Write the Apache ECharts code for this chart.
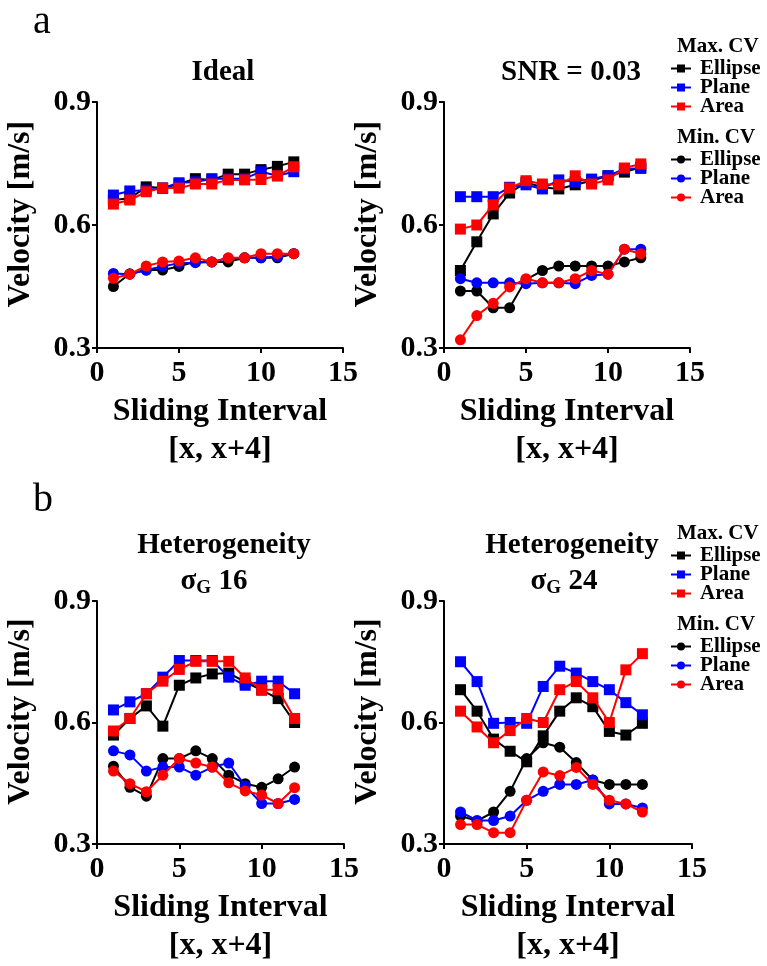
<!DOCTYPE html>
<html>
<head>
<meta charset="utf-8">
<script src="https://cdn.jsdelivr.net/npm/echarts@6/dist/echarts.min.js"></script>
<style>html,body{margin:0;padding:0;background:#fff}#c{width:767px;height:966px}</style>
</head>
<body>
<div id="c"></div>
<script>
const xVals = [1,2,3,4,5,6,7,8,9,10,11,12];
const xTicks = [0,5,10,15];
const yTicks = [0.3,0.6,0.9];

// Panel a-left: Ideal
const idealMaxEllipse = [0.661,0.665,0.693,0.690,0.700,0.713,0.710,0.724,0.724,0.735,0.743,0.754];
const idealMaxPlane   = [0.673,0.683,0.685,0.690,0.703,0.705,0.713,0.713,0.713,0.730,0.720,0.730];
const idealMaxArea    = [0.651,0.661,0.681,0.690,0.690,0.700,0.700,0.710,0.710,0.711,0.720,0.742];
const idealMinEllipse = [0.450,0.481,0.490,0.490,0.499,0.510,0.510,0.510,0.520,0.520,0.520,0.530];
const idealMinPlane   = [0.482,0.480,0.490,0.499,0.507,0.508,0.510,0.519,0.520,0.520,0.523,0.530];
const idealMinArea    = [0.470,0.480,0.500,0.510,0.512,0.520,0.510,0.520,0.520,0.530,0.530,0.530];

// Panel a-right: SNR = 0.03
const snrMaxEllipse = [0.489,0.559,0.627,0.678,0.704,0.692,0.688,0.698,0.708,0.720,0.729,0.741];
const snrMaxPlane   = [0.669,0.669,0.669,0.692,0.698,0.688,0.710,0.706,0.712,0.720,0.737,0.738];
const snrMaxArea    = [0.590,0.600,0.649,0.690,0.708,0.700,0.698,0.720,0.700,0.710,0.739,0.749];
const snrMinEllipse = [0.439,0.439,0.398,0.398,0.467,0.489,0.500,0.500,0.500,0.500,0.510,0.520];
const snrMinPlane   = [0.469,0.459,0.459,0.459,0.457,0.459,0.459,0.457,0.477,0.480,0.541,0.541];
const snrMinArea    = [0.320,0.379,0.409,0.449,0.469,0.459,0.459,0.469,0.489,0.480,0.541,0.530];

// Panel b-left: Heterogeneity sigma_G 16
const h16MaxEllipse = [0.569,0.610,0.641,0.591,0.692,0.710,0.720,0.722,0.700,0.680,0.659,0.600];
const h16MaxPlane   = [0.631,0.651,0.671,0.712,0.753,0.753,0.753,0.712,0.692,0.702,0.702,0.671];
const h16MaxArea    = [0.579,0.610,0.671,0.702,0.731,0.751,0.751,0.751,0.710,0.681,0.681,0.610];
const h16MinEllipse = [0.492,0.440,0.418,0.511,0.511,0.530,0.511,0.470,0.449,0.440,0.461,0.490];
const h16MinPlane   = [0.530,0.520,0.480,0.490,0.490,0.470,0.490,0.500,0.443,0.400,0.400,0.410];
const h16MinArea    = [0.480,0.449,0.429,0.470,0.511,0.500,0.490,0.451,0.431,0.421,0.400,0.439];

// Panel b-right: Heterogeneity sigma_G 24
const h24MaxEllipse = [0.681,0.628,0.559,0.529,0.503,0.567,0.628,0.661,0.639,0.578,0.569,0.598];
const h24MaxPlane   = [0.750,0.701,0.598,0.600,0.598,0.689,0.739,0.722,0.701,0.681,0.649,0.619];
const h24MaxArea    = [0.628,0.589,0.550,0.580,0.610,0.600,0.681,0.701,0.661,0.600,0.730,0.770];
const h24MinEllipse = [0.369,0.357,0.379,0.430,0.511,0.550,0.539,0.501,0.458,0.447,0.447,0.447];
const h24MinPlane   = [0.379,0.358,0.358,0.369,0.408,0.430,0.447,0.447,0.458,0.399,0.399,0.389];
const h24MinArea    = [0.348,0.348,0.328,0.328,0.408,0.478,0.469,0.489,0.447,0.408,0.399,0.379];

const panels = [
  [idealMaxEllipse, idealMaxPlane, idealMaxArea, idealMinEllipse, idealMinPlane, idealMinArea],
  [snrMaxEllipse, snrMaxPlane, snrMaxArea, snrMinEllipse, snrMinPlane, snrMinArea],
  [h16MaxEllipse, h16MaxPlane, h16MaxArea, h16MinEllipse, h16MinPlane, h16MinArea],
  [h24MaxEllipse, h24MaxPlane, h24MaxArea, h24MinEllipse, h24MinPlane, h24MinArea]
];
const seriesNames = ['Max Ellipse','Max Plane','Max Area','Min Ellipse','Min Plane','Min Area'];
const colors = ['#000000','#0000ff','#ff0000','#000000','#0000ff','#ff0000'];
const symbols = ['rect','rect','rect','circle','circle','circle'];

const FONT = '"Liberation Serif", "DejaVu Serif", serif';
const grids = [
  {left:97, top:102, width:246, height:246},
  {left:444, top:102, width:246, height:246},
  {left:97, top:601, width:247, height:246},
  {left:444, top:601, width:248, height:246}
];

const xAxes = grids.map((g,i)=>({
  type:'value', gridIndex:i, min:xTicks[0], max:xTicks[xTicks.length-1], interval:5,
  axisLine:{lineStyle:{color:'#000', width:2}},
  axisTick:{length:5, lineStyle:{color:'#000', width:2}},
  splitLine:{show:false},
  axisLabel:{fontFamily:FONT, fontWeight:'bold', fontSize:30, color:'#000', margin:10},
  name:'Sliding Interval\n[x, x+4]', nameLocation:'middle', nameGap:45,
  nameTextStyle:{fontFamily:FONT, fontWeight:'bold', fontSize:32, lineHeight:38, color:'#000'}
}));
const yAxes = grids.map((g,i)=>({
  type:'value', gridIndex:i, min:yTicks[0], max:yTicks[yTicks.length-1], interval:0.3,
  axisLine:{show:true, lineStyle:{color:'#000', width:2}},
  axisTick:{show:true, length:5, lineStyle:{color:'#000', width:2}},
  splitLine:{show:false},
  axisLabel:{fontFamily:FONT, fontWeight:'bold', fontSize:30, color:'#000', margin:6,
    formatter:v=>(+v).toFixed(1)},
  name:'Velocity [m/s]', nameLocation:'middle', nameGap:60,
  nameTextStyle:{fontFamily:FONT, fontWeight:'bold', fontSize:32, color:'#000', padding:[0,0,0,22]}
}));

const series = [];
panels.forEach((arrs,i)=>{
  arrs.forEach((arr,k)=>{
    series.push({
      name:seriesNames[k], type:'line', xAxisIndex:i, yAxisIndex:i,
      data:xVals.map((x,j)=>[x, arr[j]]),
      symbol:symbols[k], symbolSize:11,
      lineStyle:{color:colors[k], width:2},
      itemStyle:{color:colors[k]},
      animation:false, z: 2 + (k%3)
    });
  });
});

function legend(top, names){
  return {
    orient:'vertical', left:665, top:top, itemGap:-2, itemWidth:20, itemHeight:10,
    data:names, selectedMode:false,
    formatter:n=>n.split(' ')[1],
    textStyle:{fontFamily:FONT, fontWeight:'bold', fontSize:21, color:'#000', padding:[0,0,0,4]}
  };
}

const titleStyle = {fontFamily:FONT, fontWeight:'bold', fontSize:29, color:'#000'};
const subRich = {a:{fontFamily:FONT, fontWeight:'bold', fontSize:29, color:'#000'},
                 b:{fontFamily:FONT, fontWeight:'bold', fontSize:19, color:'#000', verticalAlign:'bottom', padding:[13,0,0,0]}};
const option = {
  backgroundColor:'#fff',
  animation:false,
  grid:grids,
  xAxis:xAxes,
  yAxis:yAxes,
  series:series,
  legend:[
    legend(53, ['Max Ellipse','Max Plane','Max Area']),
    legend(144, ['Min Ellipse','Min Plane','Min Area']),
    legend(540, ['Max Ellipse','Max Plane','Max Area']),
    legend(631, ['Min Ellipse','Min Plane','Min Area'])
  ],
  title:[
    {text:'Ideal', left:218, top:53, textAlign:'center', textStyle:titleStyle},
    {text:'SNR = 0.03', left:566, top:53, textAlign:'center', textStyle:titleStyle},
    {text:'Heterogeneity', left:219, top:526, textAlign:'center', textStyle:titleStyle},
    {text:'Heterogeneity', left:567, top:526, textAlign:'center', textStyle:titleStyle},
    {text:'{a|σ}{b|G}{a| 16}', left:209, top:561, textAlign:'center', textStyle:{rich:subRich}},
    {text:'{a|σ}{b|G}{a| 24}', left:559, top:561, textAlign:'center', textStyle:{rich:subRich}}
  ],
  graphic:[
    {type:'text', left:33, top:2, style:{text:'a', fontFamily:FONT, fontSize:40, fill:'#000'}},
    {type:'text', left:33, top:480, style:{text:'b', fontFamily:FONT, fontSize:40, fill:'#000'}},
    {type:'text', left:677, top:36, style:{text:'Max. CV', fontFamily:FONT, fontWeight:'bold', fontSize:21, fill:'#000'}},
    {type:'text', left:677, top:127, style:{text:'Min. CV', fontFamily:FONT, fontWeight:'bold', fontSize:21, fill:'#000'}},
    {type:'text', left:677, top:523, style:{text:'Max. CV', fontFamily:FONT, fontWeight:'bold', fontSize:21, fill:'#000'}},
    {type:'text', left:677, top:614, style:{text:'Min. CV', fontFamily:FONT, fontWeight:'bold', fontSize:21, fill:'#000'}}
  ]
};
const chart = echarts.init(document.getElementById('c'), null, {renderer:'canvas'});
chart.setOption(option);
</script>
</body>
</html>
